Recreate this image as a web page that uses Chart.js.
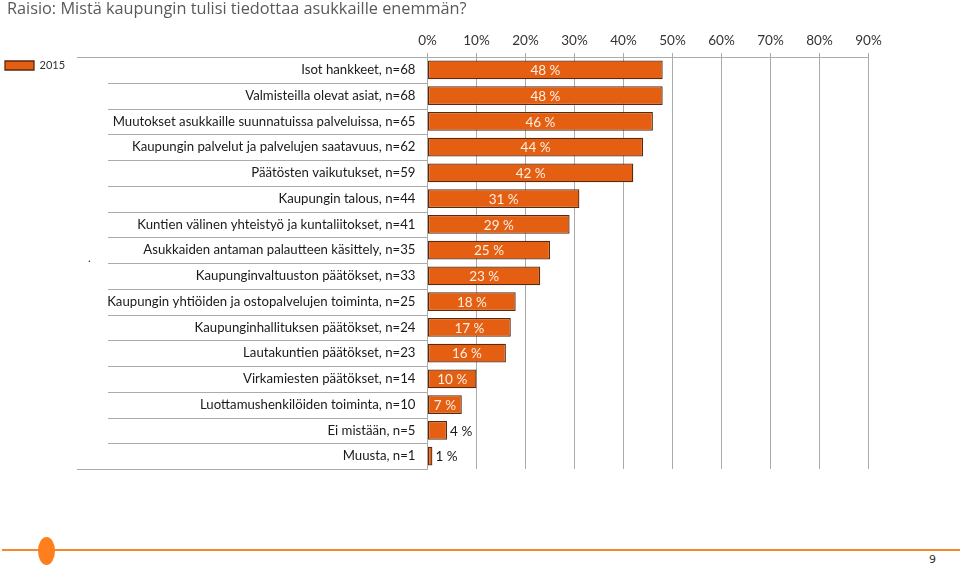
<!DOCTYPE html>
<html lang="fi">
<head>
<meta charset="utf-8">
<title>Raisio: Mistä kaupungin tulisi tiedottaa asukkaille enemmän?</title>
<script src="https://cdn.jsdelivr.net/npm/chart.js@4.4.1/dist/chart.umd.min.js"></script>
<style>
  html, body { margin: 0; padding: 0; background: #fff; }
  #page { position: relative; width: 960px; height: 570px; overflow: hidden; }
  #wrap { position: absolute; left: 0; top: 0; width: 960px; height: 500px; }
  #title { position: absolute; left: 7px; top: -3px; font: 16.3px 'Open Sans', sans-serif; color: #595959; white-space: nowrap; }
  #dot { position: absolute; left: 88px; top: 250px; font: 12px Lato, sans-serif; color: #333; }
  #rule { position: absolute; left: 2px; top: 549px; width: 958px; height: 2px; background: #F5892A; }
  #bullet { position: absolute; left: 38px; top: 537px; width: 17px; height: 28px; border-radius: 50%; background: #FF7F1E; }
  #pageno { position: absolute; left: 929px; top: 553px; font: 11px 'DejaVu Sans', sans-serif; color: #333; }
</style>
</head>
<body>
<div id="page">
  <div id="wrap"><canvas id="chart"></canvas></div>
  <div id="title">Raisio: Mistä kaupungin tulisi tiedottaa asukkaille enemmän?</div>
  <div id="dot">.</div>
  <div id="rule"></div>
  <div id="bullet"></div>
  <div id="pageno">9</div>
</div>
<script>
// data
const categories = [
  'Isot hankkeet, n=68',
  'Valmisteilla olevat asiat, n=68',
  'Muutokset asukkaille suunnatuissa palveluissa, n=65',
  'Kaupungin palvelut ja palvelujen saatavuus, n=62',
  'Päätösten vaikutukset, n=59',
  'Kaupungin talous, n=44',
  'Kuntien välinen yhteistyö ja kuntaliitokset, n=41',
  'Asukkaiden antaman palautteen käsittely, n=35',
  'Kaupunginvaltuuston päätökset, n=33',
  'Kaupungin yhtiöiden ja ostopalvelujen toiminta, n=25',
  'Kaupunginhallituksen päätökset, n=24',
  'Lautakuntien päätökset, n=23',
  'Virkamiesten päätökset, n=14',
  'Luottamushenkilöiden toiminta, n=10',
  'Ei mistään, n=5',
  'Muusta, n=1'
];
const shares2015 = [48, 48, 46, 44, 42, 31, 29, 25, 23, 18, 17, 16, 10, 7, 4, 1];
const tickLabels = ['0%', '10%', '20%', '30%', '40%', '50%', '60%', '70%', '80%', '90%'];

// layout
const PAD_LEFT = 2;
const PLOT_LEFT = 427.5;
const AXIS_TOP = 57;
const GRID = '#ABABAB';

// category separator lines out to the left of the labels
const rowLines = {
  id: 'rowLines',
  afterDraw(chart) {
    const y = chart.scales.y;
    const area = chart.chartArea;
    const ctx = chart.ctx;
    ctx.save();
    ctx.strokeStyle = GRID;
    ctx.lineWidth = 1;
    for (let i = 0; i <= categories.length; i++) {
      const py = Math.round(y.getPixelForValue(i - 0.5)) + 0.5;
      const x0 = (i === 0 || i === categories.length) ? 77 : 108;
      ctx.beginPath();
      ctx.moveTo(x0, py);
      ctx.lineTo(area.left, py);
      ctx.stroke();
    }
    ctx.restore();
  }
};

// value labels, inside the bar when it is wide enough
const valueLabels = {
  id: 'valueLabels',
  afterDatasetsDraw(chart) {
    const ctx = chart.ctx;
    const meta = chart.getDatasetMeta(0);
    const vals = chart.data.datasets[0].data;
    ctx.save();
    ctx.font = '13.5px Lato';
    ctx.textBaseline = 'middle';
    meta.data.forEach((bar, i) => {
      const txt = vals[i] + ' %';
      if (vals[i] >= 7) {
        ctx.fillStyle = '#FCEFE4';
        ctx.textAlign = 'center';
        ctx.fillText(txt, (bar.base + bar.x) / 2, bar.y + 1);
      } else {
        ctx.fillStyle = '#1a1a1a';
        ctx.textAlign = 'left';
        ctx.fillText(txt, bar.x + 3, bar.y + 1);
      }
    });
    ctx.restore();
  }
};

const ctx = document.getElementById('chart').getContext('2d');
const chart = new Chart(ctx, {
  type: 'bar',
  data: {
    labels: categories,
    datasets: [{
      label: '2015',
      data: shares2015,
      backgroundColor: '#E55F12',
      borderColor: '#5A2A0E',
      borderWidth: 1.3,
      borderSkipped: false,
      barPercentage: 0.73,
      categoryPercentage: 1
    }]
  },
  options: {
    indexAxis: 'y',
    responsive: true,
    maintainAspectRatio: false,
    animation: false,
    layout: { padding: { left: PAD_LEFT, right: 91.5, top: 0, bottom: 31 } },
    scales: {
      x: {
        position: 'top',
        min: 0,
        max: 90,
        ticks: {
          stepSize: 10,
          padding: 4,
          color: '#333',
          font: { family: 'Lato', size: 13.5 },
          callback: (v, i) => tickLabels[i]
        },
        grid: { color: GRID, tickLength: 4 },
        border: { color: GRID },
        afterFit(scale) { scale.height = AXIS_TOP; }
      },
      y: {
        ticks: {
          padding: 12,
          color: '#1a1a1a',
          font: { family: 'Lato', size: 13.2 }
        },
        grid: { display: false, drawTicks: false },
        border: { display: true, color: GRID },
        afterFit(scale) {
          const lw = scale.chart.legend ? scale.chart.legend.width : 0;
          scale.width = PLOT_LEFT - lw - PAD_LEFT;
        }
      }
    },
    plugins: {
      legend: {
        position: 'left',
        align: 'start',
        fullSize: false,
        labels: {
          boxWidth: 29,
          boxHeight: 9,
          padding: 3,
          color: '#333',
          font: { family: 'Lato', size: 11 }
        }
      },
      tooltip: { enabled: false }
    }
  },
  plugins: [rowLines, valueLabels]
});
</script>
</body>
</html>
